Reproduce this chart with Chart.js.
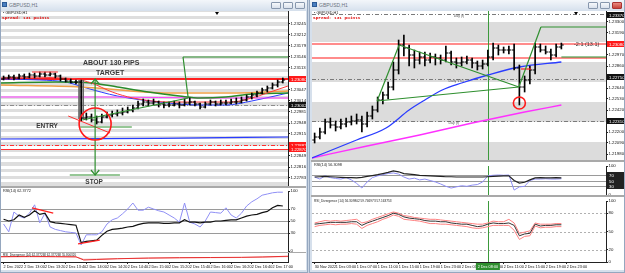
<!DOCTYPE html>
<html><head><meta charset="utf-8">
<script src="https://cdn.jsdelivr.net/npm/chart.js@4/dist/chart.umd.min.js"></script>
<style>
html,body{margin:0;padding:0;}
body{width:625px;height:273px;background:#c7d3e2;position:relative;overflow:hidden;font-family:"Liberation Sans",sans-serif;}
.win{position:absolute;top:0;height:273px;background:#d6e0ec;border:1px solid #95a7bf;box-sizing:border-box;}
.tb{position:absolute;top:0;height:10px;background:linear-gradient(#f3f6fa,#d8e2ee);}
.ttl{position:absolute;top:2px;font-size:5px;color:#6b7380;}
.ico{position:absolute;top:2px;width:5px;height:5px;background:#4a7fc0;border:1px solid #2d5a96;box-sizing:border-box;}
.btn{position:absolute;top:2px;width:10px;height:7px;border:1px solid #8797ad;box-sizing:border-box;background:linear-gradient(#f6f8fb,#d9e1ec);border-radius:1px;}
.btn.red{background:linear-gradient(#e98a80,#c8433a);border-color:#a33;}
canvas{position:absolute;background:#fff;}
.sep{position:absolute;background:#a9a9a9;}
.lbl{position:absolute;z-index:5;white-space:nowrap;}
.sm{font-size:3.8px;color:#222;}
.spr{font-family:"Liberation Mono",monospace;font-weight:bold;font-size:4.4px;color:#e00000;}
.tri{position:absolute;z-index:5;width:0;height:0;border-left:2px solid transparent;border-right:2px solid transparent;border-top:3px solid #000;}
</style></head>
<body>
<div class="win" style="left:0;width:308px"></div>
<div class="tb" style="left:1px;width:306px"></div>
<div class="ico" style="left:2px"></div><div class="ttl" style="left:9px">GBPUSD,H1</div>
<div class="btn" style="left:271px"></div><div class="btn" style="left:283px"></div><div class="btn" style="left:295px"></div>

<div class="win" style="left:309px;width:316px"></div>
<div class="tb" style="left:310px;width:314px"></div>
<div class="ico" style="left:312px"></div><div class="ttl" style="left:319px">GBPUSD,H1</div>
<div class="btn" style="left:588px"></div><div class="btn" style="left:600px"></div><div class="btn red" style="left:612px"></div>

<canvas id="cLM" width="305" height="175" style="left:1px;top:11px"></canvas>
<div class="sep" style="left:1px;top:186px;width:305px;height:2px"></div>
<canvas id="cLR" width="305" height="64" style="left:1px;top:188px"></canvas>
<div class="sep" style="left:1px;top:252px;width:305px;height:1px"></div>
<canvas id="cLD" width="305" height="17" style="left:1px;top:253px"></canvas>

<canvas id="cRM" width="312" height="149" style="left:312px;top:11px"></canvas>
<div class="sep" style="left:311px;top:160px;width:313px;height:2px"></div>
<canvas id="cRR" width="312" height="33" style="left:312px;top:162px"></canvas>
<div class="sep" style="left:311px;top:195px;width:313px;height:2px"></div>
<canvas id="cRD" width="312" height="73" style="left:312px;top:197px"></canvas>

<div class="lbl sm" style="left:3px;top:11px">&#9642; GBPUSD,H1</div>
<div class="lbl spr" style="left:2px;top:15px">Spread: 131 points</div>
<div class="lbl sm" style="left:3px;top:189px">RSI(14) 62.3772</div>
<div class="lbl sm" style="left:3px;top:253px;font-size:3px">RSI_Divergence (14) 62.377268 62.377268 55.800320</div>
<div class="tri" style="left:215px;top:12px"></div>

<div class="lbl sm" style="left:314px;top:11px">&#9642; GBPUSD,H1</div>
<div class="lbl spr" style="left:313px;top:15px">Spread: 131 points</div>
<div class="lbl sm" style="left:314px;top:163px">RSI(14) 56.3098</div>
<div class="lbl sm" style="left:314px;top:199px;font-size:3.2px">RSI_Divergence (14) 56.309802 59.746973 57.163753</div>
<div class="tri" style="left:574px;top:12px"></div>

<script>
// ================= DATA =================
// ---- left chart (M5) ----
const leftTimeIdx = [0,4,8,12,16,20,24,28,32,36,40,44,48,52];
const leftTimeLabels = ['2 Dec 2022','2 Dec 13:00','2 Dec 13:20','2 Dec 13:40','2 Dec 14:00','2 Dec 14:20','2 Dec 14:40','2 Dec 15:00','2 Dec 15:20','2 Dec 15:40','2 Dec 16:00','2 Dec 16:20','2 Dec 16:40','2 Dec 17:00'];
const leftPriceTicks = [1.22783,1.22816,1.22849,1.22882,1.22915,1.22948,1.22981,1.23014,1.23047,1.23080,1.23113,1.23146,1.23179,1.23212,1.23245];
const leftOpen  = [1.23080,1.23083,1.23086,1.23083,1.23089,1.23086,1.23092,1.23089,1.23095,1.23092,1.23095,1.23089,1.23080,1.23074,1.23071,1.23071,1.22963,1.22966,1.22957,1.22951,1.22966,1.22972,1.22975,1.22978,1.22981,1.22987,1.22993,1.23005,1.23011,1.23008,1.23011,1.23005,1.23002,1.23002,1.23005,1.23002,1.23008,1.23011,1.23005,1.22996,1.23005,1.23011,1.23005,1.23008,1.23008,1.23011,1.23011,1.23017,1.23026,1.23032,1.23038,1.23047,1.23053,1.23062,1.23071];
const leftHigh  = [1.23089,1.23092,1.23092,1.23095,1.23095,1.23098,1.23098,1.23101,1.23101,1.23101,1.23098,1.23092,1.23083,1.23080,1.23077,1.23077,1.22978,1.22975,1.22969,1.22975,1.22981,1.22984,1.22987,1.22993,1.22996,1.23002,1.23014,1.23020,1.23017,1.23020,1.23014,1.23011,1.23011,1.23014,1.23011,1.23020,1.23023,1.23014,1.23008,1.23011,1.23017,1.23014,1.23017,1.23017,1.23020,1.23023,1.23026,1.23032,1.23038,1.23044,1.23053,1.23059,1.23068,1.23077,1.23083];
const leftLow   = [1.23077,1.23080,1.23077,1.23080,1.23080,1.23083,1.23083,1.23086,1.23086,1.23089,1.23083,1.23074,1.23071,1.23068,1.23065,1.22954,1.22957,1.22951,1.22945,1.22948,1.22963,1.22966,1.22969,1.22972,1.22978,1.22981,1.22990,1.22999,1.22999,1.23002,1.22996,1.22993,1.22996,1.22999,1.22993,1.22999,1.23002,1.22999,1.22990,1.22993,1.23002,1.22999,1.23002,1.23002,1.23005,1.23005,1.23008,1.23014,1.23020,1.23026,1.23035,1.23041,1.23050,1.23056,1.23068];
const leftClose = [1.23083,1.23086,1.23083,1.23089,1.23086,1.23092,1.23089,1.23095,1.23092,1.23095,1.23089,1.23080,1.23074,1.23071,1.23071,1.22963,1.22966,1.22957,1.22951,1.22966,1.22972,1.22975,1.22978,1.22981,1.22987,1.22993,1.23005,1.23011,1.23008,1.23011,1.23005,1.23002,1.23002,1.23005,1.23002,1.23008,1.23011,1.23005,1.22996,1.23005,1.23011,1.23005,1.23008,1.23008,1.23011,1.23011,1.23017,1.23026,1.23032,1.23038,1.23047,1.23053,1.23062,1.23071,1.23077];
const leftRedMaX = [-0.5,5,11,14,17,21,25,32,38,44,48,51,55];
const leftRedMaY = [1.23083,1.23086,1.23083,1.23080,1.23068,1.23041,1.23023,1.23011,1.23011,1.23011,1.23023,1.23038,1.23059];
const leftGreenMaX = [-0.5,10,17,22,28,34,38,43,48,55];
const leftGreenMaY = [1.23068,1.23071,1.23068,1.23056,1.23041,1.23029,1.23023,1.23026,1.23035,1.23038];
const leftOrangeMaX = [-0.5,15,32,45,55];
const leftOrangeMaY = [1.23062,1.23056,1.23038,1.23038,1.23044];
const leftMagentaMaX = [-0.5,20,40,55];
const leftMagentaMaY = [1.23026,1.23026,1.23023,1.23023];
const leftBlueMaX = [-0.5,7,12,16,22,30,38,43,48,55];
const leftBlueMaY = [1.23080,1.23077,1.23071,1.23053,1.23029,1.23011,1.23002,1.23002,1.23014,1.23038];
const leftBlueSlowX = [-0.5,30,55];
const leftBlueSlowY = [1.22900,1.22902,1.22906];
const leftRsi     = [53,50,52,60,56,60,67,61,63,49,47,46,45,44,43,14,16,17,18,26,33,36,37,38,40,41,44,46,47,47,47,46,46,47,47,52,48,48,47,48,48,50,50,51,52,52,55,58,60,61,64,66,72,76,75];
const leftRsiFast = [45,32,65,58,55,63,77,47,63,40,36,34,32,31,30,10,27,27,27,32,45,52,55,62,70,80,68,68,73,70,67,65,60,55,48,80,48,45,40,50,65,64,63,72,60,55,63,75,82,87,93,95,97,98,98];
const leftDivX = [-0.5,5,10,14,15.5,18,22,28,34,40,46,50,55];
const leftDivA = [60,62,60,58,22,28,36,44,48,50,52,56,64];
const leftDivB = [56,58,57,55,30,32,38,42,46,48,50,54,60];

// ---- right chart (H1) ----
const rightTimeIdx = [0,4,8,12,16,20,24,28,32,36,40,44,48];
const rightTimeLabels = ['30 Nov 2022','1 Dec 03:00','1 Dec 07:00','1 Dec 11:00','1 Dec 15:00','1 Dec 19:00','1 Dec 23:00','2 Dec 03:00','2 Dec 07:00','2 Dec 11:00','2 Dec 15:00','2 Dec 19:00','2 Dec 23:00'];
const rightPriceTicks = [1.2198,1.2209,1.2220,1.2231,1.2242,1.2253,1.2264,1.2275,1.2286,1.2297,1.2308,1.2319,1.2330];
const rightOpen  = [1.2212,1.2215,1.2220,1.2230,1.2227,1.2225,1.2228,1.2230,1.2231,1.2232,1.2228,1.2236,1.2242,1.2252,1.2257,1.2265,1.2282,1.2307,1.2304,1.2297,1.2292,1.2295,1.2292,1.2295,1.2294,1.2292,1.2299,1.2290,1.2289,1.2290,1.2292,1.2289,1.2286,1.2288,1.2295,1.2304,1.2302,1.2302,1.2302,1.2284,1.2265,1.2272,1.2282,1.2305,1.2302,1.2300,1.2297,1.2305];
const rightHigh  = [1.2219,1.2224,1.2233,1.2234,1.2231,1.2233,1.2234,1.2236,1.2238,1.2236,1.2240,1.2246,1.2255,1.2260,1.2270,1.2290,1.2312,1.2317,1.2307,1.2302,1.2300,1.2300,1.2299,1.2298,1.2297,1.2306,1.2301,1.2294,1.2295,1.2296,1.2294,1.2291,1.2292,1.2302,1.2309,1.2307,1.2305,1.2306,1.2308,1.2287,1.2276,1.2286,1.2309,1.2308,1.2306,1.2303,1.2308,1.2309];
const rightLow   = [1.2209,1.2213,1.2218,1.2224,1.2221,1.2223,1.2225,1.2227,1.2228,1.2220,1.2225,1.2233,1.2240,1.2248,1.2253,1.2262,1.2278,1.2296,1.2286,1.2284,1.2288,1.2286,1.2289,1.2287,1.2288,1.2290,1.2287,1.2284,1.2286,1.2288,1.2284,1.2282,1.2283,1.2286,1.2292,1.2297,1.2299,1.2298,1.2282,1.2247,1.2260,1.2268,1.2278,1.2300,1.2298,1.2292,1.2295,1.2303];
const rightClose = [1.2215,1.2220,1.2230,1.2227,1.2225,1.2228,1.2230,1.2231,1.2232,1.2228,1.2236,1.2242,1.2252,1.2257,1.2265,1.2282,1.2307,1.2304,1.2297,1.2292,1.2295,1.2292,1.2295,1.2294,1.2292,1.2299,1.2290,1.2289,1.2290,1.2292,1.2289,1.2286,1.2288,1.2295,1.2304,1.2302,1.2302,1.2302,1.2284,1.2265,1.2272,1.2282,1.2305,1.2302,1.2300,1.2297,1.2305,1.2307];
const rightBlueMaX = [-0.5,8,13.6,18,21,24.3,28,33,39,47];
const rightBlueMaY = [1.2194,1.2212,1.2224,1.2242,1.2252,1.2262,1.2269,1.2277,1.2285,1.2290];
const rightMagentaMaX = [-0.5,10,20,30,40,47];
const rightMagentaMaY = [1.2194,1.2206,1.2217,1.2229,1.2240,1.2247];
const rightRsi     = [62,63,64,63,62,61,60,60,59,61,64,67,70,74,78,83,80,74,72,70,68,67,66,65,64,63,63,62,62,62,62,62,62,63,64,65,66,66,50,41,44,52,59,60,59,59,60,59];
const rightRsiFast = [62,55,66,60,57,55,60,52,40,24,45,60,66,70,74,76,72,62,55,58,52,55,50,45,38,30,24,28,32,30,34,36,45,66,68,69,68,69,17,28,30,50,55,55,56,55,55,56];
const rightDiv     = [62,63,64,65,65,65,65,66,66,60,64,67,70,73,76,80,78,74,72,71,70,68,67,67,66,66,64,63,62,62,60,58,59,62,64,63,63,64,60,43,46,47,62,59,60,60,61,61];
const rightDivUp   = [64,66,68,67,68,67,68,69,70,64,66,70,73,76,79,82,80,76,75,73,72,71,70,70,69,68,67,66,65,64,63,62,62,64,67,66,66,70,64,47,49,51,64,62,62,62,63,63];
const rightDivLow  = [58,60,61,62,61,62,62,63,62,55,60,63,66,70,73,77,75,70,69,68,67,65,63,63,62,62,61,60,59,58,56,55,56,58,60,60,60,60,52,37,42,43,59,56,57,57,58,58];

// ================= HELPERS =================
const FONT = '"Liberation Sans"';
Chart.defaults.font.family = 'Liberation Sans';
const overlay = {
  id: 'overlay',
  beforeDatasetsDraw(chart, args, o) {
    const {ctx, chartArea: a} = chart; const x = chart.scales.x, y = chart.scales.y;
    ctx.save();
    ctx.beginPath(); ctx.rect(a.left, a.top, a.right - a.left, a.bottom - a.top); ctx.clip();
    if (o.bands) {
      const b = o.bands;
      const k0 = Math.floor((y.min - b.anchor) / b.step) - 2, k1 = Math.ceil((y.max - b.anchor) / b.step) + 2;
      ctx.fillStyle = b.color;
      for (let k = k0; k <= k1; k++) {
        if (Math.abs(k) % 2 === 1) continue;
        const t = Math.round(y.getPixelForValue(b.anchor + (k + 1) * b.step)), bt = Math.round(y.getPixelForValue(b.anchor + k * b.step));
        ctx.fillRect(a.left, t, a.right - a.left, bt - t);
      }
    }
    for (const h of (o.hlines || [])) {
      const w = h.w || 1;
      const py = Math.round(y.getPixelForValue(h.v)) + (w % 2 ? 0.5 : 0);
      ctx.strokeStyle = h.color; ctx.lineWidth = w; ctx.setLineDash(h.dash || []);
      ctx.beginPath(); ctx.moveTo(a.left, py); ctx.lineTo(a.right, py); ctx.stroke();
    }
    ctx.setLineDash([]);
    for (const v of (o.vlines || [])) {
      const px = Math.round(x.getPixelForValue(v.v)) + 0.5;
      ctx.strokeStyle = v.color; ctx.lineWidth = v.w || 1;
      ctx.beginPath(); ctx.moveTo(px, a.top); ctx.lineTo(px, a.bottom); ctx.stroke();
    }
    ctx.restore();
  },
  afterDraw(chart, args, o) {
    const {ctx, chartArea: a} = chart; const x = chart.scales.x, y = chart.scales.y;
    ctx.save();
    for (const t of (o.texts || [])) {
      ctx.font = t.font; ctx.fillStyle = t.color; ctx.textAlign = t.align || 'center'; ctx.textBaseline = 'middle';
      ctx.fillText(t.t, x.getPixelForValue(t.x), y.getPixelForValue(t.y));
    }
    for (const b of (o.boxes || [])) {
      const py = Math.round(y.getPixelForValue(b.v));
      ctx.fillStyle = b.bg; ctx.fillRect(a.right + 1, py - 3, chart.width - a.right - 1, 6);
      ctx.fillStyle = b.fg || '#fff'; ctx.font = '4.3px ' + FONT; ctx.textAlign = 'left'; ctx.textBaseline = 'middle';
      ctx.fillText(b.text || b.v.toFixed(5), a.right + 3, py + 0.5);
    }
    if (o.timeTag) {
      const px = x.getPixelForValue(o.timeTag.v);
      ctx.fillStyle = o.timeTag.bg; ctx.fillRect(px - 12, a.bottom + 1, 24, 7);
      ctx.fillStyle = '#fff'; ctx.font = '3.8px ' + FONT; ctx.textAlign = 'center'; ctx.textBaseline = 'middle';
      ctx.fillText(o.timeTag.text, px, a.bottom + 4.5);
    }
    ctx.restore();
  }
};
const pts = (xs, ys) => xs.map((v, k) => ({x: v, y: ys[k]}));
const seg = (p, color, w, order) => ({type: 'line', data: p, borderColor: color, borderWidth: w || 1, pointRadius: 0, tension: 0, fill: false, order: order ?? 0});
const ma = (xs, ys, color, w) => ({type: 'line', data: pts(xs, ys), borderColor: color, borderWidth: w || 1, pointRadius: 0, cubicInterpolationMode: 'monotone', fill: false, order: 3});
const series = (ys, color, w, order) => ({type: 'line', data: ys.map((v, i) => ({x: i, y: v})), borderColor: color, borderWidth: w || 1, pointRadius: 0, tension: 0, fill: false, order: order ?? 2});
const ring = (cx, cy, r, color) => ({type: 'line', showLine: false, data: [{x: cx, y: cy}], pointStyle: 'circle', pointRadius: r, borderColor: color, borderWidth: 1.6, backgroundColor: 'rgba(0,0,0,0)', order: 0});
function ohlc(o, h, l, c) {
  return [
    {type: 'bar', data: h.map((v, i) => ({x: i, y: [l[i], v]})), backgroundColor: '#000', barThickness: 1, order: 1},
    {type: 'line', showLine: false, data: o.map((v, i) => ({x: i - 0.22, y: v})), pointStyle: 'line', pointRadius: 1.2, borderColor: '#000', borderWidth: 1, order: 1},
    {type: 'line', showLine: false, data: c.map((v, i) => ({x: i + 0.22, y: v})), pointStyle: 'line', pointRadius: 1.2, borderColor: '#000', borderWidth: 1, order: 1}
  ];
}
function yAxis(min, max, ticks, fmt) {
  return {
    type: 'linear', position: 'right', min, max,
    afterFit: s => { s.width = 18; s.paddingTop = 0; s.paddingBottom = 0; },
    afterBuildTicks: s => { s.ticks = ticks.map(v => ({value: v})); },
    ticks: {autoSkip: false, font: {size: 4.3, family: 'Liberation Sans'}, color: '#111', padding: 0.5, callback: v => fmt(v)},
    grid: {drawOnChartArea: false, drawTicks: true, tickLength: 2, color: '#222'},
    border: {display: true, color: '#222'}
  };
}
function xHidden(min, max) { return {type: 'linear', min, max, display: false, offset: false}; }
function xTime(min, max, idx, labels) {
  return {
    type: 'linear', min, max, offset: false,
    afterFit: s => { s.height = 8; s.paddingLeft = 0; s.paddingRight = 0; },
    afterBuildTicks: s => { s.ticks = idx.map(v => ({value: v})); },
    ticks: {autoSkip: false, maxRotation: 0, minRotation: 0, align: 'start', font: {size: 3.8, family: 'Liberation Sans'}, color: '#111', padding: 0.5, callback: (v, i) => labels[i]},
    grid: {drawOnChartArea: false, drawTicks: true, tickLength: 2, color: '#222'},
    border: {display: true, color: '#222'}
  };
}
const base = (pad) => ({responsive: false, animation: false, devicePixelRatio: 1, events: [], layout: {padding: pad || 0, autoPadding: false}});
const noLegend = {legend: {display: false}, tooltip: {enabled: false}};
const f5 = v => v.toFixed(5);
const f0 = v => String(Math.round(v));

// ================= LEFT MAIN =================
const LG = '#2f8f2f';
new Chart(document.getElementById('cLM'), {
  type: 'bar',
  data: {datasets: [
    ring(17.7, 1.22945, 16, '#ff1a1a'),
    seg([{x: 15.2, y: 1.22957}, {x: 35.7, y: 1.23023}], LG, 1.2),
    seg([{x: 34.7, y: 1.23146}, {x: 35.7, y: 1.23023}], LG, 1.2),
    seg([{x: 34.7, y: 1.23146}, {x: 55, y: 1.23146}], LG, 1.2),
    seg([{x: 17.7, y: 1.23080}, {x: 17.7, y: 1.22792}], LG, 1.2),
    seg([{x: 16.9, y: 1.23065}, {x: 17.7, y: 1.23080}, {x: 18.5, y: 1.23065}], LG, 1.2),
    seg([{x: 16.9, y: 1.22807}, {x: 17.7, y: 1.22792}, {x: 18.5, y: 1.22807}], LG, 1.2),
    seg([{x: 12.8, y: 1.22792}, {x: 22.5, y: 1.22792}], LG, 1),
    seg([{x: 14.8, y: 1.22936}, {x: 24.8, y: 1.22936}], LG, 1),
    seg([{x: 12.5, y: 1.22969}, {x: 20.6, y: 1.22918}], '#ff3030', 1),
    seg([{x: 5.5, y: 1.23101}, {x: 10.5, y: 1.23101}], '#ff3030', 1),
    seg([{x: 14.6, y: 1.23077}, {x: 14.6, y: 1.22960}], '#666', 1, 2),
    seg([{x: 15.4, y: 1.23077}, {x: 15.4, y: 1.22960}], '#666', 1, 2),
    ...ohlc(leftOpen, leftHigh, leftLow, leftClose),
    ma(leftRedMaX, leftRedMaY, '#ff3b3b', 1),
    ma(leftGreenMaX, leftGreenMaY, '#2a8a2a', 1.5),
    ma(leftOrangeMaX, leftOrangeMaY, '#f0a048', 1.5),
    ma(leftMagentaMaX, leftMagentaMaY, '#ff3cff', 1),
    ma(leftBlueMaX, leftBlueMaY, '#2a3cff', 1),
    ma(leftBlueSlowX, leftBlueSlowY, '#2a3cff', 1.2)
  ]},
  options: {...base(0),
    scales: {x: xHidden(-0.5, 55), y: yAxis(1.22759, 1.23284, leftPriceTicks, f5)},
    plugins: {...noLegend, overlay: {
      bands: {anchor: 1.23080, step: 0.0001, color: '#dedede'},
      hlines: [
        {v: 1.23002, color: '#8c8c8c', w: 1, dash: [4, 2, 1, 2]},
        {v: 1.22882, color: '#ff3030', w: 1, dash: [4, 2, 1, 2]},
        {v: 1.22870, color: '#ff3030', w: 1},
        {v: 1.23080, color: '#ff2020', w: 2}
      ],
      texts: [
        {x: 20.8, y: 1.23128, t: 'ABOUT 130 PIPS', font: 'bold 7px ' + FONT, color: '#3a3a3a'},
        {x: 20.6, y: 1.23098, t: 'TARGET', font: 'bold 7px ' + FONT, color: '#3a3a3a'},
        {x: 8.4, y: 1.22939, t: 'ENTRY', font: 'bold 6.5px ' + FONT, color: '#3a3a3a'},
        {x: 17.5, y: 1.22771, t: 'STOP', font: 'bold 6.5px ' + FONT, color: '#3a3a3a'}
      ],
      boxes: [
        {v: 1.23080, bg: '#ff1a1a'},
        {v: 1.23002, bg: '#111'},
        {v: 1.22882, bg: '#ff1a1a'},
        {v: 1.22870, bg: '#ff1a1a'}
      ]
    }}
  },
  plugins: [overlay]
});

// ================= LEFT RSI =================
new Chart(document.getElementById('cLR'), {
  type: 'line',
  data: {datasets: [
    seg([{x: 5.5, y: 72}, {x: 9.6, y: 63}], '#ff2020', 1.3, 0),
    seg([{x: 14.4, y: 12}, {x: 18.6, y: 18}], '#ff2020', 1.3, 0),
    series(leftRsi, '#111', 1.2, 1),
    series(leftRsiFast, '#8f8ff5', 1, 2)
  ]},
  options: {...base({top: 3, bottom: 1}),
    scales: {x: xHidden(-0.5, 55), y: yAxis(0, 100, [0, 30, 50, 70, 100], f0)},
    plugins: {...noLegend, overlay: {hlines: [
      {v: 70, color: '#9a9a9a', w: 1}, {v: 50, color: '#9a9a9a', w: 1}, {v: 30, color: '#9a9a9a', w: 1}
    ]}}
  },
  plugins: [overlay]
});

// ================= LEFT DIVERGENCE =================
new Chart(document.getElementById('cLD'), {
  type: 'line',
  data: {datasets: [
    {type: 'line', data: pts(leftDivX, leftDivB), borderColor: '#f7a0a0', borderWidth: 1, pointRadius: 0, order: 2},
    {type: 'line', data: pts(leftDivX, leftDivA), borderColor: '#e83030', borderWidth: 1, pointRadius: 0, order: 1}
  ]},
  options: {...base(0),
    scales: {x: xTime(-0.5, 55, leftTimeIdx, leftTimeLabels), y: yAxis(0, 100, [], f0)},
    plugins: {...noLegend, overlay: {}}
  },
  plugins: [overlay]
});

// ================= RIGHT MAIN =================
const RG = '#2f8f2f';
new Chart(document.getElementById('cRM'), {
  type: 'bar',
  data: {datasets: [
    ring(39, 1.2249, 6, '#ff1a1a'),
    seg([{x: 11.9, y: 1.2251}, {x: 16.1, y: 1.2307}], RG, 1.2),
    seg([{x: 16.1, y: 1.2307}, {x: 38.9, y: 1.2265}], RG, 1.2),
    seg([{x: 11.9, y: 1.2251}, {x: 38.9, y: 1.2265}], RG, 1.2),
    seg([{x: 38.9, y: 1.2265}, {x: 43.1, y: 1.2325}], RG, 1.2),
    seg([{x: 43.1, y: 1.2325}, {x: 55.5, y: 1.2325}], RG, 1.2),
    seg([{x: 47, y: 1.2295}, {x: 55.5, y: 1.2295}], RG, 1.2),
    seg([{x: 39.3, y: 1.2283}, {x: 41.2, y: 1.2283}], '#ff2020', 1.2),
    ...ohlc(rightOpen, rightHigh, rightLow, rightClose),
    ma(rightBlueMaX, rightBlueMaY, '#2a3cff', 1.3),
    ma(rightMagentaMaX, rightMagentaMaY, '#ff30ff', 1.3)
  ]},
  options: {...base(0),
    scales: {x: xHidden(-0.5, 55.5), y: yAxis(1.2192, 1.2341, rightPriceTicks, f5)},
    plugins: {...noLegend, overlay: {
      bands: {anchor: 1.2310, step: 0.0020, color: '#dcdcdc'},
      hlines: [
        {v: 1.2338, color: '#7a7a7a', w: 1, dash: [4, 2, 1, 2]},
        {v: 1.2273, color: '#7a7a7a', w: 1, dash: [4, 2, 1, 2]},
        {v: 1.2231, color: '#7a7a7a', w: 1, dash: [4, 2, 1, 2]},
        {v: 1.2308, color: '#ff8c8c', w: 2},
        {v: 1.2294, color: '#ff8c8c', w: 2}
      ],
      vlines: [{v: 33, color: '#3c9a3c', w: 1}],
      texts: [
        {x: 49.4, y: 1.2308, t: '-2:1 (13.1)', font: '5.5px ' + FONT, color: '#333', align: 'left'},
        {x: 25.5, y: 1.22705, t: 'Daily VS1', font: '3.5px ' + FONT, color: '#555', align: 'left'},
        {x: 25.5, y: 1.22285, t: 'Day (f)', font: '3.5px ' + FONT, color: '#555', align: 'left'},
        {x: 26.5, y: 1.23355, t: 'Day (f)', font: '3.5px ' + FONT, color: '#555', align: 'left'}
      ],
      boxes: [
        {v: 1.2337, bg: '#111'},
        {v: 1.2308, bg: '#ff1a1a'},
        {v: 1.2275, bg: '#111'},
        {v: 1.2231, bg: '#111'}
      ]
    }}
  },
  plugins: [overlay]
});

// ================= RIGHT RSI =================
new Chart(document.getElementById('cRR'), {
  type: 'line',
  data: {datasets: [
    series(rightRsi, '#222', 1.2, 1),
    series(rightRsiFast, '#8f8ff5', 1, 2)
  ]},
  options: {...base({top: 4, bottom: 0}),
    scales: {x: xHidden(-0.5, 55.5), y: yAxis(0, 100, [0, 100], f0)},
    plugins: {...noLegend, overlay: {
      hlines: [{v: 70, color: '#9a9a9a'}, {v: 50, color: '#9a9a9a'}, {v: 30, color: '#9a9a9a'}],
      vlines: [{v: 33, color: '#3c9a3c', w: 1}],
      boxes: [{v: 70, bg: '#222', text: '70'}, {v: 50, bg: '#222', text: '50'}, {v: 30, bg: '#222', text: '30'}]
    }}
  },
  plugins: [overlay]
});

// ================= RIGHT DIVERGENCE =================
new Chart(document.getElementById('cRD'), {
  type: 'line',
  data: {datasets: [
    series(rightDivUp, '#ff8080', 1, 2),
    series(rightDivLow, '#ff8080', 1, 2),
    series(rightDiv, '#333', 1, 1)
  ]},
  options: {...base({top: 4}),
    scales: {x: xTime(-0.5, 55.5, rightTimeIdx, rightTimeLabels), y: yAxis(0, 100, [0, 20, 50, 80, 100], f0)},
    plugins: {...noLegend, overlay: {
      hlines: [{v: 80, color: '#b0b0b0', dash: [2, 2]}, {v: 50, color: '#b0b0b0', dash: [2, 2]}, {v: 20, color: '#b0b0b0', dash: [2, 2]}],
      vlines: [{v: 33, color: '#3c9a3c', w: 1}],
      timeTag: {v: 33, text: '2 Dec 08:00', bg: '#2f8f2f'}
    }}
  },
  plugins: [overlay]
});
</script>
</body></html>
